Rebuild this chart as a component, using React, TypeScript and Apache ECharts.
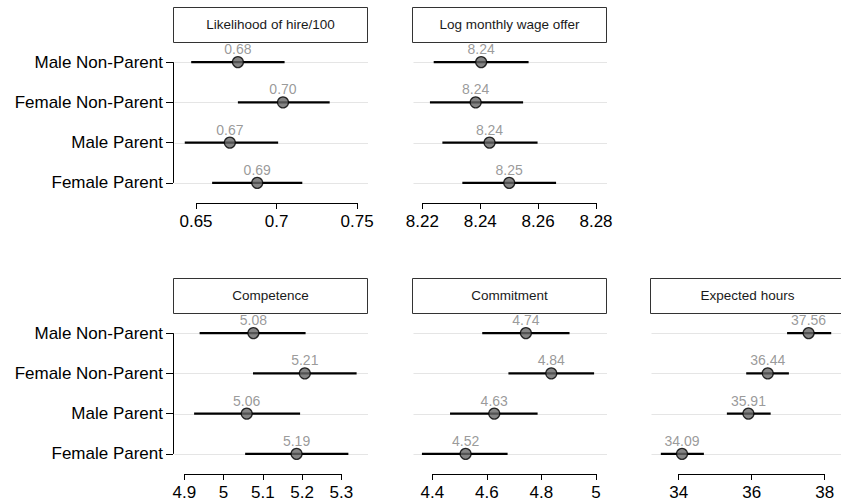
import React, { useEffect, useRef } from 'react';
import * as echarts from 'echarts';

const categories = ['Male Non-Parent', 'Female Non-Parent', 'Male Parent', 'Female Parent'];
const panelTitles = ['Likelihood of hire/100', 'Log monthly wage offer', 'Competence', 'Commitment', 'Expected hours'];

const hireMean = [0.676, 0.704, 0.671, 0.688];
const hireLo = [0.647, 0.676, 0.643, 0.66];
const hireHi = [0.705, 0.733, 0.701, 0.716];
const hireTicks = [0.65, 0.7, 0.75];

const wageMean = [8.2403, 8.2384, 8.2432, 8.25];
const wageLo = [8.2239, 8.2226, 8.2269, 8.2338];
const wageHi = [8.2567, 8.2548, 8.2598, 8.2662];
const wageTicks = [8.22, 8.24, 8.26, 8.28];

const compMean = [5.076, 5.207, 5.059, 5.186];
const compLo = [4.939, 5.075, 4.925, 5.055];
const compHi = [5.209, 5.339, 5.195, 5.318];
const compTicks = [4.9, 5, 5.1, 5.2, 5.3];

const commitMean = [4.743, 4.836, 4.627, 4.522];
const commitLo = [4.583, 4.679, 4.465, 4.362];
const commitHi = [4.903, 4.993, 4.786, 4.676];
const commitTicks = [4.4, 4.6, 4.8, 5];

const hoursMean = [37.56, 36.44, 35.91, 34.09];
const hoursLo = [36.97, 35.85, 35.32, 33.51];
const hoursHi = [38.18, 37.02, 36.52, 34.69];
const hoursTicks = [34, 36, 38];

const FONT = 'Arial, "Liberation Sans", Helvetica, sans-serif';

const panelData = [
  { mean: hireMean, lo: hireLo, hi: hireHi, ticks: hireTicks, min: 0.6357, max: 0.7568 },
  { mean: wageMean, lo: wageLo, hi: wageHi, ticks: wageTicks, min: 8.2164, max: 8.2838 },
  { mean: compMean, lo: compLo, hi: compHi, ticks: compTicks, min: 4.8712, max: 5.368 },
  { mean: commitMean, lo: commitLo, hi: commitHi, ticks: commitTicks, min: 4.3256, max: 5.0403 },
  { mean: hoursMean, lo: hoursLo, hi: hoursHi, ticks: hoursTicks, min: 33.213, max: 38.448 },
];

// layout (pixels)
const layout = [
  { left: 173, top: 42, showY: true },
  { left: 412, top: 42, showY: false },
  { left: 173, top: 313, showY: true },
  { left: 412, top: 313, showY: false },
  { left: 650, top: 313, showY: false },
];
const PW = 195;
const PH = 161;
const STRIP_H = 35;

export default function App() {
  const ref = useRef<HTMLDivElement>(null);
  useEffect(() => {
    if (!ref.current) return;
    const chart = echarts.init(ref.current, undefined, { renderer: 'svg' });

    const grid: any[] = [];
    const xAxis: any[] = [];
    const yAxis: any[] = [];
    const series: any[] = [];
    const graphic: any[] = [];

    panelData.forEach((p, k) => {
      const L = layout[k];
      grid.push({ left: L.left, top: L.top, width: PW, height: PH, containLabel: false });
      xAxis.push({
        type: 'value',
        gridIndex: k,
        min: p.min,
        max: p.max,
        axisLine: { show: false },
        splitLine: { show: false },
        axisTick: { show: true, customValues: p.ticks, length: 6, lineStyle: { color: '#000', width: 1 } },
        axisLabel: {
          show: true,
          customValues: p.ticks,
          fontSize: 17,
          color: '#000',
          fontFamily: FONT,
          margin: 10,
        },
      });
      yAxis.push({
        type: 'category',
        gridIndex: k,
        inverse: true,
        data: categories,
        axisLine: { show: false },
        splitLine: { show: false },
        axisTick: { show: L.showY, alignWithLabel: true, length: 7, lineStyle: { color: '#000', width: 1 } },
        axisLabel: {
          show: L.showY,
          interval: 0,
          fontSize: 17,
          color: '#000',
          fontFamily: FONT,
          margin: 10,
        },
      });

      // frame: gridlines + capped axis lines
      series.push({
        type: 'custom',
        xAxisIndex: k,
        yAxisIndex: k,
        z: 1,
        silent: true,
        encode: { x: [0, 1], y: 2 },
        data: [[p.ticks[0], p.ticks[p.ticks.length - 1], 0]],
        renderItem: (params: any, api: any) => {
          const cs = params.coordSys;
          const t0 = api.value(0);
          const t1 = api.value(1);
          const children: any[] = [];
          for (let i = 0; i < categories.length; i++) {
            const py = Math.round(api.coord([t0, i])[1]) + 0.5;
            children.push({
              type: 'line',
              shape: { x1: cs.x + 1.5, y1: py, x2: cs.x + cs.width, y2: py },
              style: { stroke: '#e5e5e5', lineWidth: 1 },
            });
          }
          const a = api.coord([t0, 0]);
          const b = api.coord([t1, 0]);
          const bottom = cs.y + cs.height + 0.5;
          children.push({
            type: 'line',
            shape: { x1: a[0], y1: bottom, x2: b[0], y2: bottom },
            style: { stroke: '#000', lineWidth: 1 },
          });
          if (L.showY) {
            const y0 = api.coord([t0, 0])[1];
            const y1 = api.coord([t0, categories.length - 1])[1];
            children.push({
              type: 'line',
              shape: { x1: cs.x + 0.5, y1: y0, x2: cs.x + 0.5, y2: y1 },
              style: { stroke: '#000', lineWidth: 1 },
            });
          }
          return { type: 'group', children };
        },
      });

      // error bars
      series.push({
        type: 'custom',
        xAxisIndex: k,
        yAxisIndex: k,
        z: 2,
        encode: { x: [1, 2], y: 0 },
        data: categories.map((_, i) => [i, p.lo[i], p.hi[i]]),
        renderItem: (params: any, api: any) => {
          const c = api.value(0);
          const p0 = api.coord([api.value(1), c]);
          const p1 = api.coord([api.value(2), c]);
          return {
            type: 'line',
            shape: { x1: p0[0], y1: p0[1], x2: p1[0], y2: p1[1] },
            style: { stroke: '#000', lineWidth: 2.2 },
          };
        },
      });

      // points
      series.push({
        type: 'scatter',
        xAxisIndex: k,
        yAxisIndex: k,
        z: 3,
        symbol: 'circle',
        symbolSize: 11,
        itemStyle: { color: '#666666', borderColor: '#000', borderWidth: 1.2 },
        label: {
          show: true,
          position: 'top',
          distance: 0,
          fontSize: 14,
          color: '#7f7f7f',
          fontFamily: FONT,
          formatter: (d: any) => Number(d.value[0]).toFixed(2),
        },
        data: p.mean.map((v, i) => [v, i]),
      });

      // strip header
      graphic.push({
        type: 'group',
        children: [
          {
            type: 'rect',
            shape: { x: L.left + 0.5, y: L.top - STRIP_H + 0.5, width: PW - 1, height: STRIP_H },
            style: { fill: '#fff', stroke: '#333', lineWidth: 1 },
          },
          {
            type: 'text',
            x: L.left + PW / 2,
            y: L.top - STRIP_H / 2,
            style: {
              text: panelTitles[k],
              fontSize: 13.5,
              fill: '#1a1a1a',
              fontFamily: FONT,
              align: 'center',
              verticalAlign: 'middle',
            },
          },
        ],
      });
    });

    chart.setOption({
      animation: false,
      backgroundColor: '#fff',
      textStyle: { fontFamily: FONT },
      grid,
      xAxis,
      yAxis,
      series,
      graphic,
    });
    return () => chart.dispose();
  }, []);

  return (
    <div
      ref={ref}
      style={{ position: 'fixed', left: 0, top: 0, width: 841, height: 503, background: '#fff' }}
    />
  );
}
